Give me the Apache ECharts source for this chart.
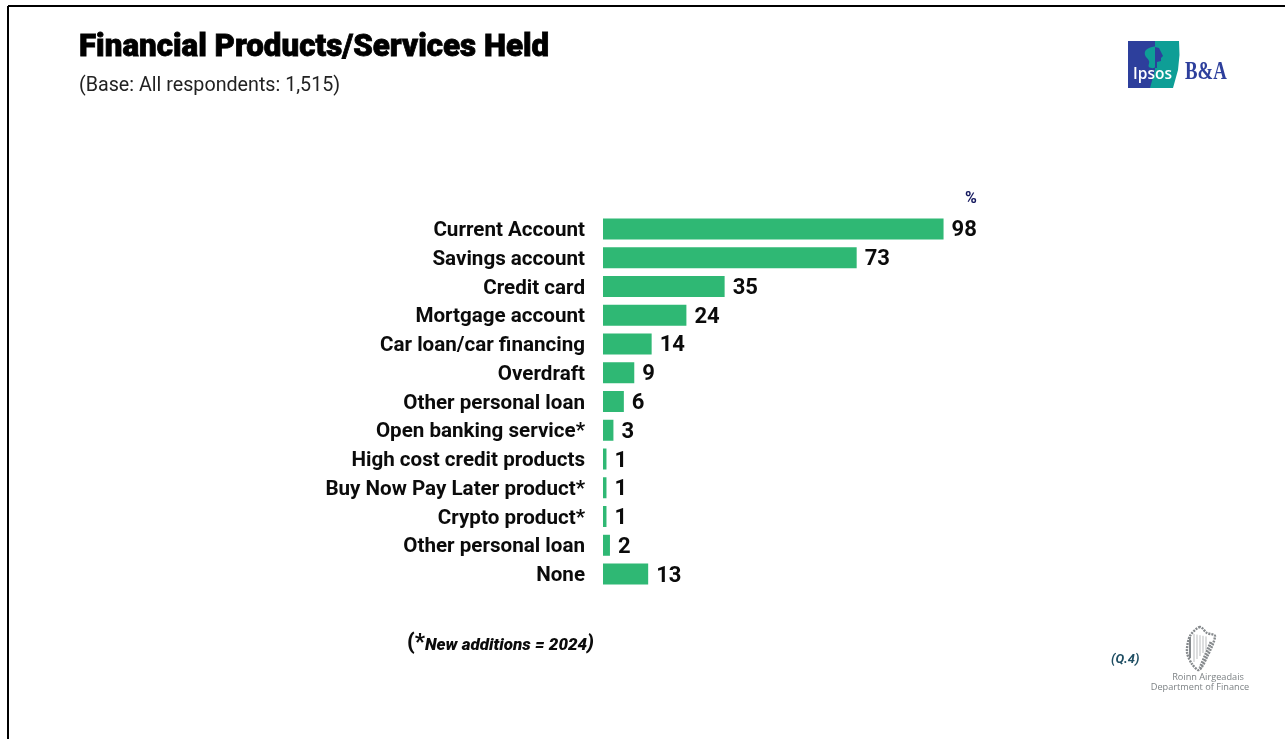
<!DOCTYPE html>
<html>
<head>
<meta charset="utf-8">
<style>html,body{margin:0;padding:0;background:#fff}#chart{width:1285px;height:739px}</style>
<script src="https://cdn.jsdelivr.net/npm/echarts@6/dist/echarts.min.js"></script>
</head>
<body>
<div id="chart"></div>
<script>
// Share of respondents holding each financial product or service
const categories = [
  'Current Account', 'Savings account', 'Credit card', 'Mortgage account',
  'Car loan/car financing', 'Overdraft', 'Other personal loan',
  'Open banking service*', 'High cost credit products',
  'Buy Now Pay Later product*', 'Crypto product*', 'Other personal loan', 'None'
];
const heldPercent = [98, 73, 35, 24, 14, 9, 6, 3, 1, 1, 1, 2, 13];

const chartTitle = 'Financial Products/Services Held';
const baseNote = '(Base: All respondents: 1,515)';
const unitLabel = '%';
const questionRef = '(Q.4)';

const FONT = 'Roboto, Arial, sans-serif';
const GREEN = '#2FB874';
const BLUE = '#2D3F9C';
const TEAL = '#0E9E96';
const GREY = '#7d8285';

// Harp emblem strings, drawn as thin vertical lines
const harpStrings = [1194, 1197, 1200, 1203, 1206].map((x, i) => ({
  type: 'line',
  shape: { x1: x, y1: 634 + i * 0.6, x2: x, y2: 662 - i * 3 },
  style: { stroke: '#a9acae', lineWidth: 0.8 }
}));

const chart = echarts.init(document.getElementById('chart'), null, { renderer: 'canvas' });
chart.setOption({
  animation: false,
  backgroundColor: '#fff',
  title: {
    text: chartTitle,
    left: 79,
    top: 33,
    padding: 0,
    textStyle: {
      fontFamily: FONT, fontSize: 31.3, fontWeight: 900, color: '#000',
      textBorderColor: '#000', textBorderWidth: 0.8
    }
  },
  grid: { left: 603, top: 214.6, width: 347.5, height: 373.8, containLabel: false },
  xAxis: { type: 'value', min: 0, max: 100, show: false },
  yAxis: {
    type: 'category',
    inverse: true,
    data: categories,
    axisLine: { show: false },
    axisTick: { show: false },
    axisLabel: {
      margin: 18, interval: 0,
      formatter: (name) => '{c|' + name + '}',
      rich: {
        c: {
          color: '#0b0b0b', fontFamily: FONT, fontWeight: 700, fontSize: 20.6,
          padding: [4, 0, 0, 0]
        }
      }
    }
  },
  series: [{
    type: 'bar',
    data: heldPercent,
    barWidth: 21,
    itemStyle: { color: GREEN },
    label: {
      show: true, position: 'right', distance: 8, color: '#0b0b0b',
      fontFamily: FONT, fontWeight: 700, fontSize: 22, offset: [0, 2]
    }
  }],
  graphic: [
    // Slide frame
    { type: 'line', shape: { x1: 8, y1: 6, x2: 1285, y2: 6 }, style: { stroke: '#000', lineWidth: 2 } },
    { type: 'line', shape: { x1: 8, y1: 6, x2: 8, y2: 739 }, style: { stroke: '#000', lineWidth: 2 } },

    { type: 'text', x: 79, y: 76, style: { text: baseNote, font: '400 19.7px ' + FONT, fill: '#222' } },
    { type: 'text', x: 965, y: 191, style: { text: unitLabel, font: '700 16px ' + FONT, fill: '#14185E' } },

    // Footnote for items added this wave
    { type: 'text', x: 407, y: 632, style: {
        rich: {
          a: { font: '900 22px ' + FONT, fill: '#0b0b0b', verticalAlign: 'bottom' },
          b: { font: 'italic 900 17px ' + FONT, fill: '#0b0b0b', verticalAlign: 'bottom' },
          d: { font: 'italic 900 20px ' + FONT, fill: '#0b0b0b', verticalAlign: 'bottom' }
        },
        text: '{a|(*}{b|New additions = 2024}{d|)}'
    } },
    { type: 'text', x: 1111, y: 653, style: { text: questionRef, font: 'italic 700 13px ' + FONT, fill: '#1F4E63' } },

    // Ipsos mark
    { type: 'rect', shape: { x: 1128, y: 41, width: 30, height: 47 }, style: { fill: BLUE } },
    { type: 'polygon', shape: { points: [[1155, 41], [1179, 41], [1179.5, 55], [1178, 70], [1173, 88], [1150, 88], [1155, 70]] }, style: { fill: TEAL } },
    { type: 'polygon', shape: { smooth: 0.4, points: [[1152, 47], [1146, 50], [1145, 55], [1149, 61], [1149, 67], [1155, 67], [1155, 47]] }, style: { fill: TEAL } },
    { type: 'polygon', shape: { points: [[1155, 47], [1159, 48], [1161, 52], [1163, 56], [1161, 58], [1161, 61], [1157, 62], [1157, 68], [1155, 68]] }, style: { fill: BLUE } },
    { type: 'text', x: 1133, y: 67, style: { text: 'Ipsos', font: '600 15.5px "Open Sans", sans-serif', fill: '#fff' } },
    { type: 'text', x: 1185, y: 60, scaleX: 0.75, style: { text: 'B&A', font: '700 25px "Liberation Serif", serif', fill: '#2D3F9C' } },

    // Harp emblem and department name
    { type: 'polygon', shape: { smooth: 0.3, points: [[1200, 627], [1190, 636], [1187, 652], [1192, 664], [1199, 670], [1207, 657], [1215, 636], [1207, 633]] },
      style: { fill: 'none', stroke: '#85898c', lineWidth: 2.4, lineDash: [2, 1] } },
    { type: 'line', shape: { x1: 1211, y1: 642, x2: 1200, y2: 668 }, style: { stroke: '#85898c', lineWidth: 3, lineDash: [2, 1] } },
    { type: 'line', shape: { x1: 1190, y1: 637, x2: 1190, y2: 658 }, style: { stroke: '#85898c', lineWidth: 2 } },
    ...harpStrings,
    { type: 'text', x: 1208, y: 677, style: { text: 'Roinn Airgeadais', font: '400 9.2px "Open Sans", sans-serif', fill: GREY, align: 'center', verticalAlign: 'middle' } },
    { type: 'text', x: 1200, y: 687, style: { text: 'Department of Finance', font: '400 9.2px "Open Sans", sans-serif', fill: GREY, align: 'center', verticalAlign: 'middle' } }
  ]
});
</script>
</body>
</html>
